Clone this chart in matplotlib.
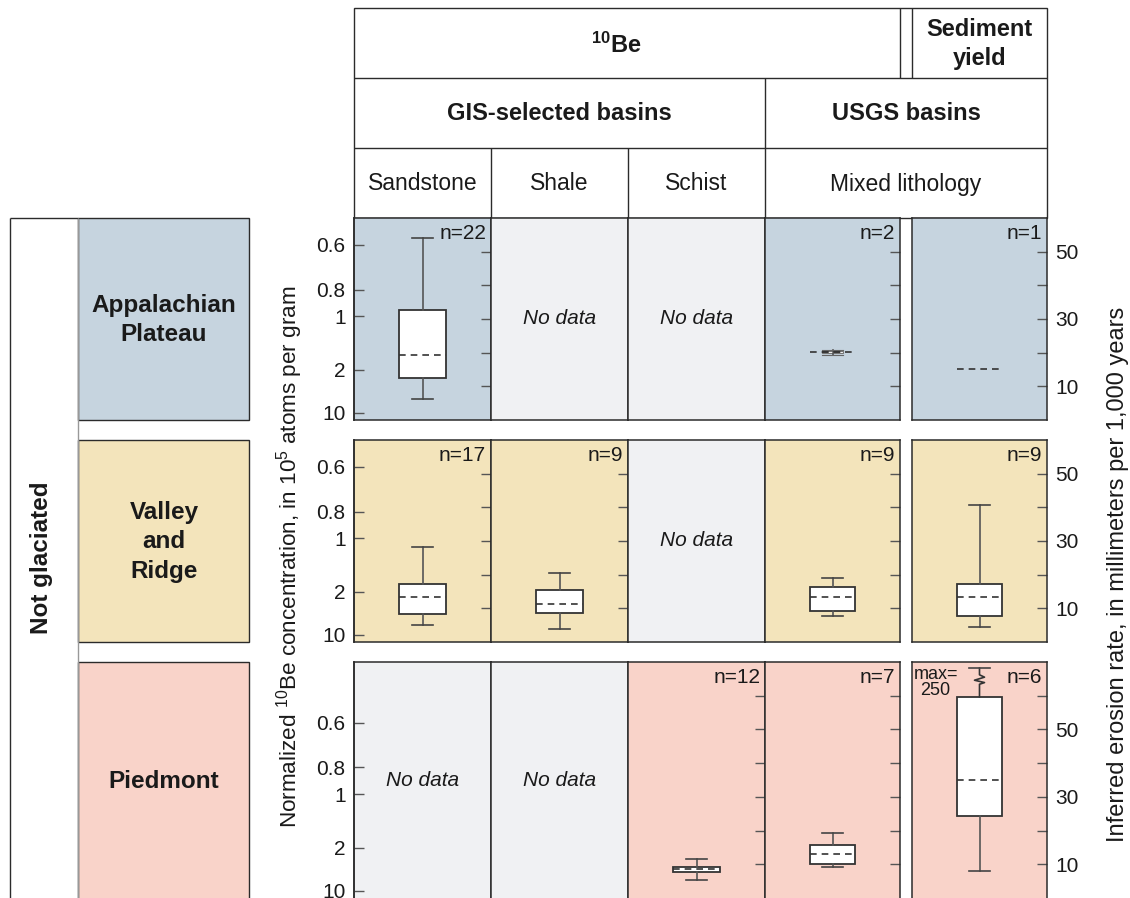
import numpy as np
import matplotlib.pyplot as plt
from matplotlib.patches import Rectangle

plt.rcParams['font.family'] = ['Liberation Sans', 'DejaVu Sans']
plt.rcParams['mathtext.fontset'] = 'custom'
plt.rcParams['mathtext.rm'] = 'Liberation Sans'
plt.rcParams['mathtext.it'] = 'Liberation Sans:italic'
plt.rcParams['mathtext.bf'] = 'Liberation Sans:bold'

W, H = 1130, 898

regions = ['Appalachian\nPlateau', 'Valley\nand\nRidge', 'Piedmont']
region_colors = ['#c6d4df', '#f3e4bb', '#f9d3c9']
nodata_color = '#f0f1f3'
lithologies = ['Sandstone', 'Shale', 'Schist', 'Mixed lithology']

# erosion rate (mm/kyr): low whisker, q1, median, q3, high whisker; None = no data
# columns: sandstone, shale, schist, mixed lithology (USGS), sediment yield
appalachian_stats = [(6.2, 12.6, 19.4, 32.6, 54.0), None, None,
                     (19.3, 19.9, 20.1, 20.4, 20.9), (15.1, 15.1, 15.1, 15.1, 15.1)]
appalachian_n = [22, None, None, 2, 1]
valley_stats = [(5.1, 8.3, 13.4, 17.1, 28.3), (3.8, 8.7, 11.4, 15.3, 20.4), None,
                (7.8, 9.1, 13.4, 16.4, 19.1), (4.5, 7.7, 13.4, 17.1, 40.7)]
valley_n = [17, 9, None, 9, 9]
piedmont_stats = [None, None, (5.3, 7.7, 8.5, 9.3, 11.7),
                  (9.3, 10.2, 13.1, 15.6, 19.4), (8.0, 24.4, 35.0, 59.7, 250.0)]
piedmont_n = [None, None, 12, 7, 6]

all_stats = [appalachian_stats, valley_stats, piedmont_stats]
all_n = [appalachian_n, valley_n, piedmont_n]

rate_top = [60, 60, 70]
rate_major = [10, 30, 50]
rate_minor = {60: [20, 40], 70: [20, 40, 60]}
conc_ticks = [0.6, 0.8, 1, 2, 10]
conc_labels = ['0.6', '0.8', '1', '2', '10']
break_at = 68.2  # whisker cut for values beyond the axis


def rate_to_conc(r):
    r = np.asarray(r, float)
    return 31.8 / np.maximum(r + 1.0, 1e-6)


def conc_to_rate(c):
    c = np.asarray(c, float)
    return 31.8 / np.maximum(c, 1e-6) - 1.0


# layout in pixels
col_x = [(354, 491), (491, 628), (628, 765), (765, 900), (912, 1047)]
row_y = [(218, 420), (440, 642), (662, 898)]
line_c = '#2b2b2b'
tick_c = '#555555'
txt_c = '#1a1a1a'

fig = plt.figure(figsize=(W / 100, H / 100), dpi=100)
fig.patch.set_facecolor('white')

canvas = fig.add_axes([0, 0, 1, 1], zorder=0)
canvas.set_xlim(0, W)
canvas.set_ylim(H, 0)
canvas.axis('off')

# header table
canvas.add_patch(Rectangle((354, 8), 693, 210, fill=False, ec=line_c, lw=1))
canvas.hlines([78, 148], 354, 1047, color=line_c, lw=1)
canvas.vlines([900, 912], 8, 78, color=line_c, lw=1)
canvas.vlines(765, 78, 218, color=line_c, lw=1)
canvas.vlines([491, 628], 148, 218, color=line_c, lw=1)
hdr = dict(ha='center', va='center', color=txt_c)
canvas.text(616, 45, r'$^{\mathbf{10}}$Be', fontweight='bold', fontsize=17, **hdr)
canvas.text(979.5, 44, 'Sediment\nyield', fontweight='bold', fontsize=17,
            linespacing=1.3, **hdr)
canvas.text(559.5, 114, 'GIS-selected basins', fontweight='bold', fontsize=17, **hdr)
canvas.text(906, 114, 'USGS basins', fontweight='bold', fontsize=17, **hdr)
for (x0, x1), name in zip(col_x[:3], lithologies[:3]):
    canvas.text((x0 + x1) / 2, 184, name, fontsize=16.5, **hdr)
canvas.text(906, 184, lithologies[3], fontsize=16.5, **hdr)

# left-hand region labels
canvas.vlines(10, 218, H + 5, color=line_c, lw=1)
canvas.hlines(218, 10, 78, color=line_c, lw=1)
canvas.vlines(78, 218, H + 5, color='#999999', lw=1)
canvas.text(42, 558, 'Not glaciated', rotation=90, ha='center', va='center',
            fontsize=17.5, fontweight='bold', color=txt_c)
for (y0, y1), name, fc in zip(row_y, regions, region_colors):
    y1b = y1 + 5 if y1 >= H else y1
    canvas.add_patch(Rectangle((78, y0), 171, y1b - y0, fc=fc, ec=line_c, lw=1))
    canvas.text(164, (y0 + y1) / 2 + 1, name, ha='center', va='center', fontsize=17.5,
                fontweight='bold', linespacing=1.35, color=txt_c)

canvas.text(290, 557, r'Normalized $^{10}$Be concentration, in 10$^{5}$ atoms per gram',
            rotation=90, ha='center', va='center', fontsize=16.2, color=txt_c)
canvas.text(1118, 574, 'Inferred erosion rate, in millimeters per 1,000 years',
            rotation=90, ha='center', va='center', fontsize=17, color=txt_c)

box_kw = dict(boxprops=dict(facecolor='white', edgecolor='#333333', lw=1.3),
              medianprops=dict(color='#333333', lw=1.2, ls=(0, (4, 3))),
              whiskerprops=dict(color=tick_c, lw=1.2),
              capprops=dict(color='#444444', lw=1.2))

for r, ((y0, y1), stats_row, n_row, top, fc) in enumerate(
        zip(row_y, all_stats, all_n, rate_top, region_colors)):
    for c, ((x0, x1), st, n) in enumerate(zip(col_x, stats_row, n_row)):
        ax = fig.add_axes([x0 / W, 1 - y1 / H, (x1 - x0) / W, (y1 - y0) / H], zorder=2)
        ax.set_xlim(0, 1)
        ax.set_ylim(0, top)
        ax.set_xticks([])
        for s in ax.spines.values():
            s.set_color(line_c)
            s.set_linewidth(1.1)
        if r == 2:
            ax.spines['bottom'].set_visible(False)
        ax.yaxis.tick_right()
        ax.tick_params(axis='y', which='both', direction='in', length=7, width=1,
                       color=tick_c, labelsize=15, pad=6, labelcolor=txt_c,
                       labelright=(c == 4), labelleft=False)

        if c == 0:
            sec = ax.secondary_yaxis('left', functions=(rate_to_conc, conc_to_rate))
            sec.set_yticks(conc_ticks, labels=conc_labels)
            sec.tick_params(direction='in', length=7, width=1, color=tick_c,
                            labelsize=15, pad=6, labelcolor=txt_c)
            sec.spines['left'].set_color(line_c)
            sec.spines['left'].set_linewidth(1.1)

        if st is None:
            ax.set_facecolor(nodata_color)
            ax.set_yticks([])
            ax.text(0.5, 0.5, 'No data', transform=ax.transAxes, ha='center',
                    va='center', fontsize=15, style='italic', color=txt_c)
            continue

        ax.set_facecolor(fc)
        ax.set_yticks(rate_major)
        ax.set_yticks(rate_minor[top], minor=True)

        lo, q1, med, q3, hi = st
        if q1 == q3:
            ax.hlines(med, 0.5 - 0.165, 0.5 + 0.165, color='#333333', lw=1.2,
                      linestyles=(0, (4, 3)))
        else:
            narrow = (q3 - q1) < 1
            bstats = dict(whislo=lo, q1=q1, med=med, q3=q3, whishi=min(hi, break_at),
                          fliers=[])
            kw = dict(box_kw)
            if narrow:
                kw['boxprops'] = dict(facecolor='white', edgecolor='#777777', lw=0.8)
                kw['capprops'] = dict(color='#666666', lw=0.8)
            parts = ax.bxp([bstats], positions=[0.5], widths=0.16 if narrow else 0.34,
                           capwidths=0.155, patch_artist=True, showfliers=False,
                           manage_ticks=False, **kw)
            if narrow:
                ax.hlines(med, 0.5 - 0.165, 0.5 + 0.165, color='#333333', lw=1.2,
                          linestyles=(0, (4, 3)), zorder=4)
            if hi > top:
                # broken upper whisker
                zx = 0.5 + np.array([0, 0, 0.037, -0.037, 0.037, 0, 0])
                zy = np.array([q3, 63.4, 63.9, 64.6, 65.5, 66.2, break_at])
                parts['whiskers'][1].set_data(zx, zy)
                parts['whiskers'][1].set_color('#333333')
                ax.text(0.175, 0.985, f'max=\n{hi:.0f}', transform=ax.transAxes,
                        ha='center', va='top', fontsize=13, linespacing=0.95,
                        color=txt_c)
        ax.annotate(f'n={n}', xy=(1, 1), xycoords='axes fraction', xytext=(-3.5, -4),
                    textcoords='offset points', ha='right', va='top', fontsize=15,
                    color=txt_c)

fig.savefig('out.png', dpi=100, facecolor='white')
